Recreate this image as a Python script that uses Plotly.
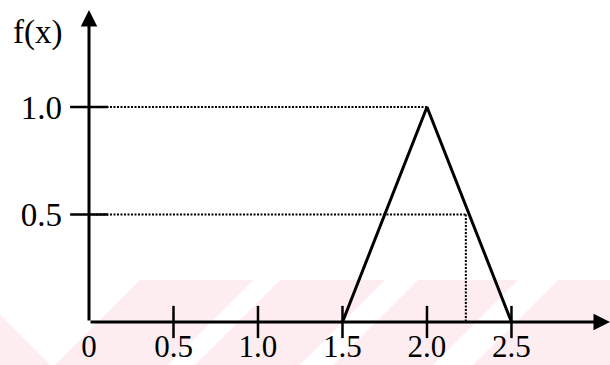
import plotly.graph_objects as go

# ---- data ----
tri_x = [1.5, 2.0, 2.5]          # triangular membership function f(x)
tri_f = [0.0, 1.0, 0.0]
peak_x = 2.0
peak_level = 1.0
cut_x = 2.23                     # alpha-cut reading
cut_level = 0.5
x_tick_vals = [0, 0.5, 1.0, 1.5, 2.0, 2.5]
x_tick_text = ["0", "0.5", "1.0", "1.5", "2.0", "2.5"]
y_tick_vals = [0.5, 1.0]
y_tick_text = ["0.5", "1.0"]

# ---- layout constants ----
W, H = 610, 365
L, R, T, B = 89, 0, 10, 43
X_MAX = 3.083
Y_MAX = 1.451
FONT = "Liberation Serif, Times New Roman, serif"
PINK = "#fdedf1"

fig = go.Figure()

# dotted guide lines
guide = dict(color="black", width=2, dash="2px,1.5px")
fig.add_trace(go.Scatter(x=[0, peak_x], y=[peak_level, peak_level], mode="lines",
                         line=guide, cliponaxis=False, hoverinfo="skip"))
fig.add_trace(go.Scatter(x=[0, cut_x], y=[cut_level, cut_level], mode="lines",
                         line=guide, cliponaxis=False, hoverinfo="skip"))
fig.add_trace(go.Scatter(x=[cut_x, cut_x], y=[cut_level, 0], mode="lines",
                         line=guide, cliponaxis=False, hoverinfo="skip"))

# triangle
fig.add_trace(go.Scatter(x=tri_x, y=tri_f, mode="lines",
                         line=dict(color="black", width=3), cliponaxis=False))

# tick marks crossing the axes
fig.add_trace(go.Scatter(x=x_tick_vals[1:], y=[0] * (len(x_tick_vals) - 1), mode="markers",
                         marker=dict(symbol="line-ns", size=23,
                                     line=dict(color="black", width=2.5)),
                         cliponaxis=False, hoverinfo="skip"))
fig.add_trace(go.Scatter(x=[0] * len(y_tick_vals), y=y_tick_vals, mode="markers",
                         marker=dict(symbol="line-ew", size=27,
                                     line=dict(color="black", width=2.5)),
                         cliponaxis=False, hoverinfo="skip"))

# background watermark stripes (pixel polygons -> paper coords)
def px(x):
    return (x - L) / (W - L - R)

def py(y):
    return (H - B - y) / (H - T - B)

stripes = [
    [(140, 280), (253, 280), (168, 365), (55, 365)],
    [(280, 280), (385, 280), (300, 365), (195, 365)],
    [(418, 280), (518, 280), (433, 365), (333, 365)],
    [(558, 280), (660, 280), (660, 365), (473, 365)],
    [(0, 315), (0, 365), (50, 365)],
]
shapes = []
for poly in stripes:
    path = "M " + " L ".join(f"{px(a):.4f},{py(b):.4f}" for a, b in poly) + " Z"
    shapes.append(dict(type="path", path=path, xref="paper", yref="paper",
                       fillcolor=PINK, line=dict(width=0), layer="below"))

# axes drawn as arrows
annotations = [
    dict(x=X_MAX, y=0, ax=0, ay=0, xref="x", yref="y", axref="x", ayref="y",
         text="", showarrow=True, arrowhead=2, arrowsize=1.1, arrowwidth=3,
         arrowcolor="black"),
    dict(x=0, y=Y_MAX, ax=0, ay=0, xref="x", yref="y", axref="x", ayref="y",
         text="", showarrow=True, arrowhead=2, arrowsize=1.1, arrowwidth=3,
         arrowcolor="black"),
    dict(x=px(37.5), y=py(33), xref="paper", yref="paper", text="f(x)",
         showarrow=False, xanchor="center", yanchor="middle",
         font=dict(family=FONT, size=33, color="black")),
]

fig.update_layout(
    template="none",
    width=W, height=H,
    margin=dict(l=L, r=R, t=T, b=B, pad=0, autoexpand=False),
    paper_bgcolor="white",
    plot_bgcolor="rgba(0,0,0,0)",
    showlegend=False,
    shapes=shapes,
    annotations=annotations,
    xaxis=dict(range=[0, X_MAX], tickvals=x_tick_vals, ticktext=x_tick_text,
               ticks="", showline=False, showgrid=False, zeroline=False,
               automargin=False,
               tickfont=dict(family=FONT, size=31, color="black"),
               ticklabelstandoff=3, fixedrange=True),
    yaxis=dict(range=[0, Y_MAX], tickvals=y_tick_vals, ticktext=y_tick_text,
               ticks="", showline=False, showgrid=False, zeroline=False,
               automargin=False,
               tickfont=dict(family=FONT, size=33, color="black"),
               ticklabelstandoff=26, fixedrange=True),
)

fig.write_html("out.html", config={"displayModeBar": False},
               post_script="document.body.style.margin='0';document.body.style.overflow='hidden';")
